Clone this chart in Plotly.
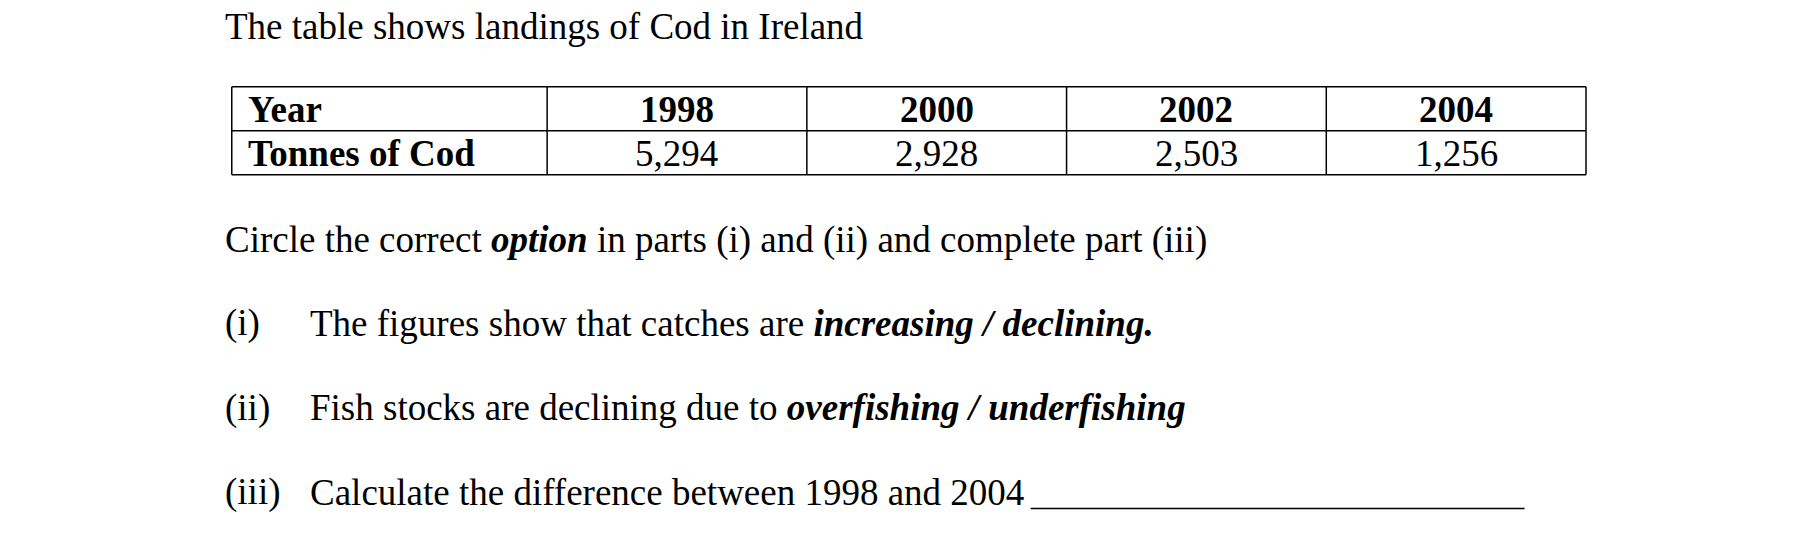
import plotly.graph_objects as go

years = ["1998", "2000", "2002", "2004"]
tonnes = ["5,294", "2,928", "2,503", "1,256"]
row_labels = ["Year", "Tonnes of Cod"]

W, H = 1568.0, 460.0  # reference display units
OFF = 7
def px(x): return (x - OFF) / W
def py(y): return 1 - (y - OFF) / H

FONT = "Liberation Serif, Times New Roman, serif"
FS = 37
fig = go.Figure()
ann = []
shapes = []

def text(x, y, s, anchor="left", size=FS):
    ann.append(dict(x=px(x), y=py(y), xref="paper", yref="paper", text=s, showarrow=False,
                    xanchor=anchor, yanchor="middle", borderpad=0,
                    font=dict(family=FONT, size=size, color="black")))

text(193, 23, "The table shows landings of Cod in Ireland")

cols = [200, 472, 696, 920, 1144, 1368]
rows = [75, 113, 151]
for c in cols:
    shapes.append(dict(type="line", xref="paper", yref="paper", x0=px(c), x1=px(c), y0=py(rows[0]), y1=py(rows[-1]), line=dict(color="black", width=1.5)))
for r in rows:
    shapes.append(dict(type="line", xref="paper", yref="paper", x0=px(cols[0]), x1=px(cols[-1]), y0=py(r), y1=py(r), line=dict(color="black", width=1.5)))

text(213, 95, "<b>" + row_labels[0] + "</b>")
text(213, 133, "<b>" + row_labels[1] + "</b>")
for i, (yr, t) in enumerate(zip(years, tonnes)):
    cx = (cols[i + 1] + cols[i + 2]) / 2
    text(cx, 95, "<b>" + yr + "</b>", anchor="center")
    text(cx, 133, t, anchor="center")

text(193, 207, "Circle the correct <b><i>option</i></b> in parts (i) and (ii) and complete part (iii)")
text(193, 279, "(i)")
text(267, 279, "The figures show that catches are <b><i>increasing / declining.</i></b>")
text(193, 352, "(ii)")
text(267, 352, "Fish stocks are declining due to <b><i>overfishing / underfishing</i></b>")
text(193, 425, "(iii)")
text(267, 425, "Calculate the difference between 1998 and 2004")
shapes.append(dict(type="line", xref="paper", yref="paper", x0=px(889), x1=px(1315), y0=py(439), y1=py(439), line=dict(color="black", width=1.5)))

fig.update_layout(width=1818, height=533, margin=dict(l=0, r=0, t=0, b=0),
                  paper_bgcolor="white", plot_bgcolor="white",
                  xaxis=dict(visible=False), yaxis=dict(visible=False),
                  annotations=ann, shapes=shapes)
fig.write_html("out.html")
